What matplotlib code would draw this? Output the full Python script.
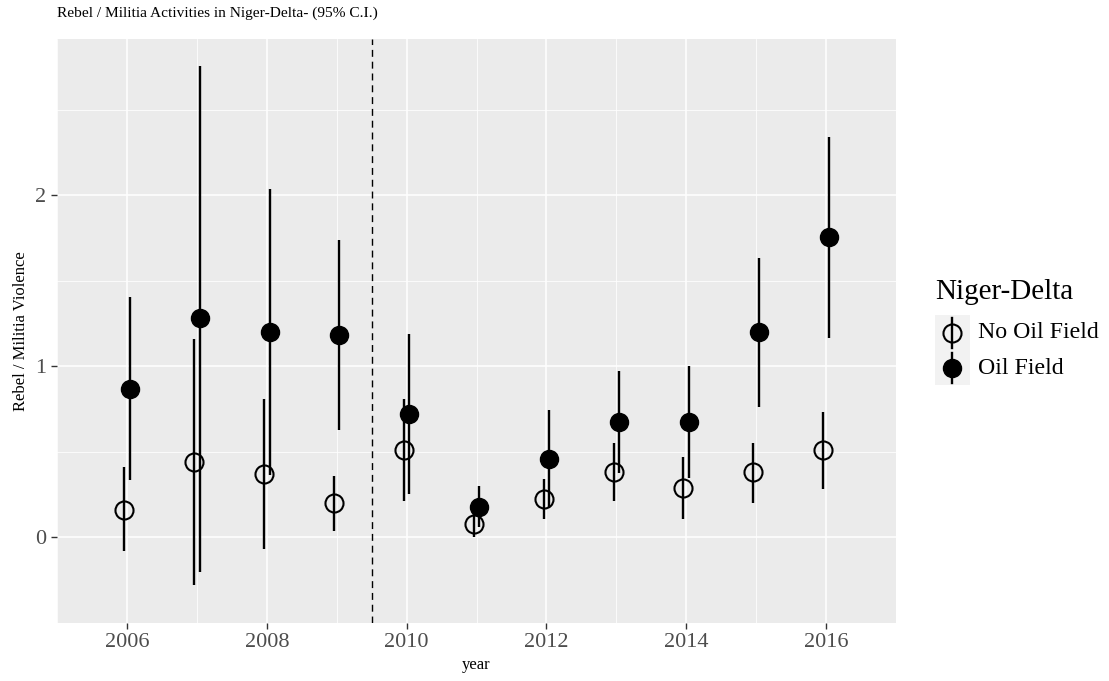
import numpy as np
import matplotlib.pyplot as plt
from matplotlib.lines import Line2D
from matplotlib.patches import Rectangle

plt.rcParams["font.family"] = ["Liberation Serif", "DejaVu Serif"]

# %%
# estimates and 95% C.I.
years = np.arange(2006, 2017)
no_oil_est = [0.16, 0.44, 0.37, 0.20, 0.51, 0.08, 0.225, 0.38, 0.29, 0.38, 0.51]
no_oil_lo = [-0.08, -0.28, -0.07, 0.04, 0.21, 0.00, 0.11, 0.21, 0.11, 0.20, 0.28]
no_oil_hi = [0.41, 1.16, 0.81, 0.36, 0.81, 0.16, 0.34, 0.55, 0.47, 0.55, 0.73]
oil_est = [0.87, 1.28, 1.20, 1.185, 0.72, 0.18, 0.46, 0.675, 0.675, 1.20, 1.755]
oil_lo = [0.335, -0.20, 0.365, 0.63, 0.255, 0.06, 0.175, 0.375, 0.345, 0.76, 1.165]
oil_hi = [1.405, 2.755, 2.035, 1.74, 1.19, 0.30, 0.745, 0.975, 1.00, 1.635, 2.34]
cutoff_year = 2009.5

title = "Rebel / Militia Activities in Niger-Delta- (95% C.I.)"
legend_title = "Niger-Delta"
group_labels = ["No Oil Field", "Oil Field"]

# %%
W, H = 1109, 681
fig = plt.figure(figsize=(W / 100, H / 100), dpi=100)
ax = fig.add_axes([57 / W, 1 - 623 / H, (896 - 57) / W, (623 - 39) / H])
ax.set_facecolor("#EBEBEB")
for s in ax.spines.values():
    s.set_visible(False)

dodge = 0.04
lw_bar = 1.7
msize = 13

# no oil field: open circles
ax.vlines(years - dodge, no_oil_lo, no_oil_hi, color="black", lw=lw_bar, zorder=3)
ax.plot(years - dodge, no_oil_est, "o", ms=msize, mfc="none", mec="black",
        mew=1.5, zorder=4)
# oil field: filled circles
ax.vlines(years + dodge, oil_lo, oil_hi, color="black", lw=lw_bar, zorder=5)
ax.plot(years + dodge, oil_est, "o", ms=msize, mfc="black", mec="black",
        mew=1.0, zorder=6)

ax.axvline(cutoff_year, color="black", lw=1.0, ls=(0, (5, 3.5)), zorder=2)

ax.set_xlim(2005.41, 2016.59)
ax.set_ylim(-0.433, 2.912)
ax.set_xticks([2006, 2008, 2010, 2012, 2014, 2016])
ax.set_xticks(np.arange(2005, 2018, 2), minor=True)
ax.set_yticks([0, 1, 2])
ax.set_yticks([-0.5, 0.5, 1.5, 2.5], minor=True)
ax.grid(which="major", color="white", lw=1.1, zorder=0)
ax.grid(which="minor", color="white", lw=0.55, zorder=0)
ax.set_axisbelow(True)
ax.tick_params(which="major", length=4.5, width=1.0, color="#333333",
               labelcolor="#4D4D4D", labelsize=16, pad=3)
ax.tick_params(which="minor", length=0)

ax.set_xlabel("year", fontsize=12, labelpad=3)
ax.set_ylabel("Rebel / Militia Violence", fontsize=12, labelpad=5)
fig.text(57 / W, 1 - 13 / H, title, fontsize=11.1, ha="left", va="center")

# legend drawn by hand in pixel positions
def fx(x):
    return x / W


def fy(y):
    return 1 - y / H


fig.text(fx(935), fy(292), legend_title, fontsize=21, ha="left", va="center")
fig.add_artist(Rectangle((fx(935), fy(385)), fx(35), 70 / H,
                         transform=fig.transFigure, facecolor="#F2F2F2",
                         edgecolor="none"))
for i, lab in enumerate(group_labels):
    yc = 333 + 35 * i
    fig.add_artist(Line2D([fx(952), fx(952)], [fy(yc - 15), fy(yc + 15)],
                          transform=fig.transFigure, color="black", lw=lw_bar))
    fig.add_artist(Line2D([fx(952)], [fy(yc)], transform=fig.transFigure,
                          marker="o", ms=msize,
                          mfc="none" if i == 0 else "black", mec="black",
                          mew=1.5 if i == 0 else 1.0))
    fig.text(fx(978), fy(yc), lab, fontsize=17.2, ha="left", va="center")

fig.savefig("out.png", dpi=100)
